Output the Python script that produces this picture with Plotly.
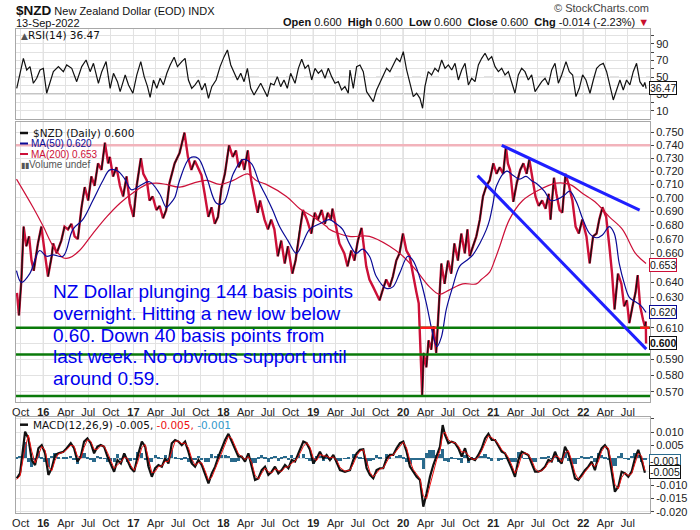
import math
from datetime import datetime
import plotly.graph_objects as go

# ---------------- DATA ----------------
price_dates = [
    "2015-09-16", "2015-09-24", "2015-10-04", "2015-10-13", "2015-10-24", "2015-11-04", "2015-11-14", "2015-11-23",
    "2015-12-10", "2015-12-24", "2016-01-07", "2016-01-20", "2016-02-04", "2016-02-10", "2016-02-24", "2016-03-14",
    "2016-03-27", "2016-04-10", "2016-04-24", "2016-05-07", "2016-05-20", "2016-06-04", "2016-06-17", "2016-07-01",
    "2016-07-14", "2016-07-27", "2016-08-10", "2016-08-24", "2016-09-07", "2016-09-20", "2016-09-27", "2016-10-10",
    "2016-10-24", "2016-11-07", "2016-11-20", "2016-12-04", "2016-12-17", "2017-01-01", "2017-01-14", "2017-01-31",
    "2017-02-10", "2017-02-24", "2017-03-07", "2017-03-20", "2017-04-04", "2017-04-17", "2017-05-01", "2017-05-14",
    "2017-05-27", "2017-06-17", "2017-07-07", "2017-07-27", "2017-08-10", "2017-08-24", "2017-09-07", "2017-09-20",
    "2017-10-04", "2017-10-17", "2017-11-01", "2017-11-14", "2017-11-27", "2017-12-10", "2017-12-24", "2018-01-07",
    "2018-01-24", "2018-02-08", "2018-02-21", "2018-03-04", "2018-03-18", "2018-03-27", "2018-04-10", "2018-04-24",
    "2018-05-07", "2018-05-20", "2018-05-30", "2018-06-17", "2018-07-01", "2018-07-14", "2018-07-27", "2018-08-10",
    "2018-08-24", "2018-09-07", "2018-09-20", "2018-10-08", "2018-10-21", "2018-11-07", "2018-11-20", "2018-12-06",
    "2018-12-24", "2019-01-07", "2019-01-20", "2019-02-04", "2019-02-17", "2019-03-01", "2019-03-14", "2019-03-20",
    "2019-04-04", "2019-04-17", "2019-05-07", "2019-05-20", "2019-06-04", "2019-06-17", "2019-07-01", "2019-07-16",
    "2019-08-04", "2019-08-17", "2019-09-01", "2019-09-14", "2019-09-27", "2019-10-10", "2019-10-24", "2019-11-07",
    "2019-11-20", "2019-12-04", "2019-12-17", "2019-12-31", "2020-01-14", "2020-01-27", "2020-02-10", "2020-02-24",
    "2020-03-04", "2020-03-10", "2020-03-18", "2020-03-24", "2020-04-04", "2020-04-13", "2020-04-24", "2020-05-03",
    "2020-05-14", "2020-05-23", "2020-06-04", "2020-06-17", "2020-07-01", "2020-07-14", "2020-07-27", "2020-08-10",
    "2020-08-24", "2020-09-07", "2020-09-18", "2020-09-27", "2020-10-10", "2020-10-24", "2020-11-07", "2020-11-20",
    "2020-12-04", "2020-12-17", "2021-01-01", "2021-01-14", "2021-01-27", "2021-02-10", "2021-02-21", "2021-03-01",
    "2021-03-10", "2021-03-23", "2021-04-06", "2021-04-20", "2021-05-03", "2021-05-16", "2021-05-27", "2021-06-08",
    "2021-06-21", "2021-07-04", "2021-07-18", "2021-08-01", "2021-08-14", "2021-08-21", "2021-09-04", "2021-09-14",
    "2021-09-27", "2021-10-08", "2021-10-21", "2021-11-04", "2021-11-18", "2021-12-01", "2021-12-14", "2021-12-28",
    "2022-01-14", "2022-01-27", "2022-02-10", "2022-02-24", "2022-03-07", "2022-03-20", "2022-04-04", "2022-04-17",
    "2022-04-28", "2022-05-08", "2022-05-22", "2022-06-05", "2022-06-16", "2022-06-27", "2022-07-07", "2022-07-20",
    "2022-08-01", "2022-08-10", "2022-08-20", "2022-09-01", "2022-09-08", "2022-09-12", "2022-09-13",
]
price_close = [
    0.633, 0.618, 0.642, 0.679, 0.665, 0.672, 0.655, 0.648,
    0.667, 0.679, 0.660, 0.644, 0.658, 0.667, 0.660, 0.669,
    0.679, 0.677, 0.681, 0.672, 0.670, 0.693, 0.708, 0.698,
    0.716, 0.709, 0.726, 0.721, 0.742, 0.726, 0.731, 0.716,
    0.723, 0.709, 0.701, 0.716, 0.696, 0.686, 0.709, 0.730,
    0.718, 0.713, 0.698, 0.701, 0.691, 0.694, 0.685, 0.691,
    0.711, 0.726, 0.734, 0.750, 0.731, 0.721, 0.728, 0.723,
    0.717, 0.703, 0.686, 0.693, 0.681, 0.686, 0.707, 0.718,
    0.740, 0.731, 0.736, 0.723, 0.729, 0.721, 0.736, 0.713,
    0.701, 0.689, 0.698, 0.684, 0.677, 0.684, 0.677, 0.658,
    0.669, 0.653, 0.665, 0.646, 0.655, 0.677, 0.691, 0.684,
    0.674, 0.689, 0.684, 0.691, 0.681, 0.689, 0.684, 0.692,
    0.677, 0.667, 0.660, 0.651, 0.662, 0.655, 0.669, 0.678,
    0.651, 0.642, 0.637, 0.633, 0.628, 0.635, 0.642, 0.637,
    0.644, 0.655, 0.660, 0.674, 0.662, 0.658, 0.644, 0.633,
    0.626, 0.604, 0.568, 0.594, 0.585, 0.602, 0.596, 0.611,
    0.594, 0.619, 0.653, 0.639, 0.655, 0.646, 0.667, 0.655,
    0.674, 0.660, 0.677, 0.658, 0.665, 0.672, 0.684, 0.701,
    0.709, 0.713, 0.726, 0.718, 0.723, 0.718, 0.739, 0.726,
    0.721, 0.697, 0.711, 0.721, 0.726, 0.718, 0.729, 0.716,
    0.701, 0.694, 0.698, 0.692, 0.703, 0.684, 0.715, 0.703,
    0.691, 0.689, 0.718, 0.709, 0.698, 0.679, 0.674, 0.684,
    0.672, 0.653, 0.672, 0.674, 0.684, 0.693, 0.686, 0.665,
    0.646, 0.622, 0.646, 0.639, 0.624, 0.628, 0.613, 0.624,
    0.633, 0.645, 0.624, 0.615, 0.611, 0.614, 0.600,
]

ma50_dates = [
    "2015-09-14", "2015-10-04", "2015-11-07", "2015-12-17", "2016-01-14", "2016-02-10", "2016-03-21", "2016-04-30",
    "2016-06-09", "2016-07-20", "2016-08-30", "2016-09-27", "2016-10-30", "2016-11-27", "2016-12-24", "2017-01-27",
    "2017-03-07", "2017-04-17", "2017-05-14", "2017-05-27", "2017-06-17", "2017-07-07", "2017-08-17", "2017-09-20",
    "2017-10-24", "2017-12-04", "2018-01-01", "2018-02-10", "2018-03-21", "2018-04-24", "2018-05-27", "2018-06-24",
    "2018-07-20", "2018-08-17", "2018-09-20", "2018-10-24", "2018-11-13", "2018-12-17", "2019-01-27", "2019-03-07",
    "2019-04-04", "2019-04-30", "2019-05-27", "2019-06-24", "2019-07-20", "2019-08-17", "2019-09-14", "2019-10-24",
    "2019-11-20", "2019-12-17", "2020-01-20", "2020-02-10", "2020-03-07", "2020-04-04", "2020-04-30", "2020-05-17",
    "2020-06-04", "2020-06-24", "2020-07-20", "2020-08-17", "2020-09-14", "2020-10-10", "2020-11-07", "2020-12-04",
    "2020-12-17", "2020-12-31", "2021-01-14", "2021-02-24", "2021-03-21", "2021-04-17", "2021-05-14", "2021-06-04",
    "2021-06-30", "2021-07-27", "2021-08-23", "2021-09-20", "2021-10-17", "2021-11-07", "2021-12-04", "2021-12-31",
    "2022-01-27", "2022-02-24", "2022-03-20", "2022-04-17", "2022-05-07", "2022-05-27", "2022-06-17", "2022-07-07",
    "2022-08-01", "2022-08-20", "2022-09-13",
]
ma50_vals = [
    0.648, 0.640, 0.646, 0.662, 0.658, 0.659, 0.658, 0.677,
    0.684, 0.698, 0.713, 0.721, 0.720, 0.714, 0.706, 0.709,
    0.712, 0.703, 0.693, 0.695, 0.700, 0.713, 0.730, 0.730,
    0.716, 0.696, 0.696, 0.718, 0.729, 0.726, 0.711, 0.701,
    0.691, 0.679, 0.669, 0.660, 0.665, 0.677, 0.681, 0.684,
    0.681, 0.677, 0.667, 0.660, 0.663, 0.658, 0.644, 0.636,
    0.637, 0.646, 0.658, 0.655, 0.644, 0.626, 0.606, 0.598,
    0.604, 0.622, 0.637, 0.651, 0.655, 0.659, 0.667, 0.677,
    0.684, 0.696, 0.709, 0.720, 0.717, 0.714, 0.716, 0.713,
    0.710, 0.705, 0.698, 0.699, 0.702, 0.705, 0.697, 0.684,
    0.674, 0.671, 0.673, 0.679, 0.674, 0.653, 0.639, 0.630,
    0.627, 0.625, 0.620,
]

ma200_dates = [
    "2015-09-14", "2015-11-20", "2016-01-01", "2016-02-10", "2016-03-21", "2016-04-17", "2016-05-27", "2016-07-20",
    "2016-09-14", "2016-11-07", "2017-01-01", "2017-02-24", "2017-04-04", "2017-05-14", "2017-07-07", "2017-09-01",
    "2017-10-24", "2017-12-17", "2018-02-10", "2018-04-10", "2018-05-14", "2018-06-24", "2018-09-14", "2018-11-07",
    "2019-01-01", "2019-02-24", "2019-03-07", "2019-05-27", "2019-08-17", "2019-11-07", "2019-12-31", "2020-02-24",
    "2020-04-17", "2020-05-27", "2020-07-07", "2020-08-30", "2020-10-24", "2020-11-13", "2020-12-17", "2021-01-06",
    "2021-01-27", "2021-03-07", "2021-04-30", "2021-07-07", "2021-09-14", "2021-11-07", "2021-12-31", "2022-02-24",
    "2022-04-17", "2022-06-09", "2022-08-01", "2022-09-13",
]
ma200_vals = [
    0.714, 0.693, 0.679, 0.665, 0.657, 0.657, 0.662, 0.674,
    0.686, 0.696, 0.704, 0.710, 0.711, 0.710, 0.708, 0.711,
    0.713, 0.710, 0.713, 0.718, 0.713, 0.710, 0.701, 0.692,
    0.686, 0.679, 0.677, 0.672, 0.672, 0.665, 0.658, 0.648,
    0.637, 0.632, 0.635, 0.639, 0.639, 0.642, 0.647, 0.655,
    0.665, 0.684, 0.698, 0.706, 0.711, 0.710, 0.703, 0.696,
    0.686, 0.677, 0.660, 0.653,
]

# RSI(14): observation times in decimal years, values
rsi_t = [
    2015.704, 2015.741, 2015.778, 2015.815, 2015.852, 2015.889, 2015.926, 2015.963, 2016.000, 2016.037,
    2016.074, 2016.111, 2016.167, 2016.222, 2016.259, 2016.315, 2016.370, 2016.426, 2016.474, 2016.519,
    2016.556, 2016.611, 2016.648, 2016.696, 2016.741, 2016.778, 2016.822, 2016.852, 2016.908, 2016.945,
    2016.993, 2017.037, 2017.081, 2017.119, 2017.156, 2017.185, 2017.222, 2017.259, 2017.296, 2017.333,
    2017.371, 2017.408, 2017.452, 2017.489, 2017.537, 2017.574, 2017.611, 2017.648, 2017.685, 2017.722,
    2017.760, 2017.797, 2017.834, 2017.871, 2017.919, 2017.963, 2018.008, 2018.045, 2018.082, 2018.119,
    2018.156, 2018.193, 2018.230, 2018.267, 2018.304, 2018.341, 2018.378, 2018.415, 2018.452, 2018.489,
    2018.526, 2018.563, 2018.600, 2018.637, 2018.674, 2018.711, 2018.748, 2018.797, 2018.834, 2018.871,
    2018.908, 2018.945, 2018.982, 2019.019, 2019.056, 2019.093, 2019.130, 2019.167, 2019.204, 2019.241,
    2019.278, 2019.315, 2019.352, 2019.389,
    2019.408, 2019.445, 2019.482, 2019.519, 2019.556, 2019.593, 2019.630, 2019.667, 2019.704, 2019.741,
    2019.778, 2019.815, 2019.852, 2019.889, 2019.926, 2019.964, 2020.001, 2020.038, 2020.075, 2020.112,
    2020.149, 2020.186, 2020.215, 2020.241, 2020.278, 2020.315, 2020.352, 2020.389, 2020.427, 2020.464,
    2020.501, 2020.538, 2020.575, 2020.612, 2020.649, 2020.686, 2020.723, 2020.760, 2020.797, 2020.834,
    2020.871, 2020.908, 2020.945, 2020.982, 2021.019, 2021.056, 2021.093, 2021.130, 2021.167, 2021.204,
    2021.241, 2021.278, 2021.315, 2021.352, 2021.389, 2021.426, 2021.464, 2021.501, 2021.538, 2021.575,
    2021.612, 2021.649, 2021.686, 2021.723, 2021.760, 2021.808, 2021.845, 2021.882, 2021.919, 2021.956,
    2021.993, 2022.030, 2022.075, 2022.112, 2022.149, 2022.186, 2022.223, 2022.260, 2022.297, 2022.334,
    2022.371, 2022.408, 2022.445, 2022.482, 2022.519, 2022.556, 2022.593, 2022.630, 2022.667, 2022.685,
    2022.700,
]
rsi_v = [
    36.9, 54.8, 72.6, 58.7, 62.7, 42.9, 48.8, 58.7, 60.7, 31.0,
    44.8, 56.7, 62.7, 56.7, 64.7, 60.7, 44.8, 62.7, 70.6, 56.7,
    66.7, 42.9, 56.7, 68.7, 36.9, 54.8, 44.8, 32.9, 52.8, 40.9,
    31.0, 52.8, 68.7, 50.8, 38.9, 26.2, 46.8, 36.9, 48.8, 40.9,
    54.8, 64.7, 73.8, 62.7, 68.7, 72.6, 46.8, 36.9, 40.9, 46.8,
    34.9, 42.9, 25.0, 38.9, 46.8, 62.7, 74.6, 82.5, 64.7, 56.7,
    46.8, 54.8, 44.8, 60.7, 36.9, 29.0, 36.9, 42.9, 34.9, 27.0,
    42.9, 40.9, 50.8, 38.9, 46.8, 36.9, 54.8, 42.9, 60.7, 71.4,
    60.7, 64.7, 46.8, 60.7, 54.8, 58.7, 48.8, 60.7, 50.8, 42.9,
    44.8, 34.9, 38.9, 31.0,
    58.7, 36.9, 62.7, 64.7, 56.7, 32.9, 27.0, 21.0, 34.9, 42.9,
    50.8, 60.7, 56.7, 64.7, 72.6, 68.7, 80.6, 58.7, 40.9, 27.0,
    31.0, 25.0, 13.1, 38.9, 56.7, 52.8, 60.7, 56.7, 70.6, 60.7,
    64.7, 58.7, 66.7, 46.8, 58.7, 66.7, 40.9, 48.8, 44.8, 64.7,
    72.6, 78.6, 70.6, 74.6, 62.7, 56.7, 60.7, 52.8, 56.7, 42.9,
    31.0, 52.8, 60.7, 56.7, 46.8, 52.8, 32.9, 38.9, 44.8, 48.8,
    40.9, 58.7, 66.7, 42.9, 52.8, 68.7, 56.7, 52.8, 27.0, 36.9,
    52.8, 46.8, 31.0, 46.8, 60.7, 64.7, 66.7, 56.7, 38.9, 23.0,
    34.9, 46.8, 34.9, 46.8, 40.9, 56.7, 66.7, 44.8, 38.9, 44.0,
    36.47,
]

# MACD(12,26,9): observation times in decimal years, MACD line and signal line
macd_t = [
    2015.704, 2015.741, 2015.797, 2015.834, 2015.871, 2015.908, 2015.945, 2015.982, 2016.019, 2016.056,
    2016.093, 2016.130, 2016.167, 2016.222, 2016.259, 2016.304, 2016.341, 2016.378, 2016.415, 2016.452,
    2016.489, 2016.526, 2016.563, 2016.600, 2016.637, 2016.674, 2016.711, 2016.748, 2016.785, 2016.822,
    2016.860, 2016.897, 2016.934, 2016.971, 2017.008, 2017.045, 2017.093, 2017.130, 2017.167, 2017.204,
    2017.241, 2017.278, 2017.315, 2017.352, 2017.389, 2017.426, 2017.463, 2017.500, 2017.537, 2017.574,
    2017.611, 2017.648, 2017.685, 2017.722, 2017.760, 2017.797, 2017.834, 2017.871, 2017.908, 2017.945,
    2017.982, 2018.019, 2018.056, 2018.093, 2018.130, 2018.167, 2018.204, 2018.241, 2018.278, 2018.315,
    2018.352, 2018.389, 2018.426, 2018.463, 2018.500, 2018.537, 2018.574, 2018.611, 2018.648, 2018.685,
    2018.723, 2018.760, 2018.797, 2018.834, 2018.889, 2018.926, 2018.963, 2019.000, 2019.037, 2019.074,
    2019.111, 2019.148, 2019.185, 2019.223, 2019.260, 2019.297, 2019.352, 2019.389,
    2019.408, 2019.445, 2019.482, 2019.519, 2019.556, 2019.593, 2019.630, 2019.667, 2019.704, 2019.741,
    2019.778, 2019.815, 2019.852, 2019.889, 2019.926, 2019.964, 2020.001, 2020.038, 2020.075, 2020.112,
    2020.149, 2020.186, 2020.223, 2020.260, 2020.297, 2020.334, 2020.371, 2020.408, 2020.438, 2020.464,
    2020.501, 2020.538, 2020.575, 2020.612, 2020.649, 2020.686, 2020.723, 2020.760, 2020.797, 2020.834,
    2020.871, 2020.908, 2020.945, 2020.982, 2021.019, 2021.056, 2021.093, 2021.130, 2021.167, 2021.204,
    2021.241, 2021.278, 2021.315, 2021.352, 2021.389, 2021.426, 2021.464, 2021.501, 2021.538, 2021.575,
    2021.612, 2021.649, 2021.686, 2021.723, 2021.760, 2021.797, 2021.834, 2021.871, 2021.908, 2021.945,
    2021.982, 2022.019, 2022.056, 2022.093, 2022.130, 2022.167, 2022.204, 2022.241, 2022.278, 2022.315,
    2022.352, 2022.390, 2022.427, 2022.464, 2022.501, 2022.538, 2022.575, 2022.612, 2022.649, 2022.686,
]
macd_v = [
    -0.0074, -0.0055, 0.0101, 0.0076, -0.0005, -0.0024, 0.0039, 0.0051, 0.0020, -0.0061,
    -0.0036, 0.0014, 0.0020, 0.0026, 0.0039, 0.0058, 0.0039, -0.0011, 0.0008, 0.0064,
    0.0076, 0.0058, 0.0020, 0.0045, 0.0051, 0.0045, 0.0008, -0.0018, -0.0049, -0.0005,
    -0.0018, 0.0020, -0.0011, -0.0036, -0.0049, 0.0008, 0.0064, 0.0045, -0.0030, -0.0068,
    -0.0036, -0.0024, -0.0030, 0.0001, -0.0018, 0.0058, 0.0070, 0.0064, 0.0051, 0.0064,
    0.0026, -0.0018, -0.0030, -0.0005, -0.0024, -0.0061, -0.0093, -0.0055, -0.0030, 0.0008,
    0.0039, 0.0070, 0.0093, 0.0064, 0.0033, 0.0008, 0.0008, -0.0011, 0.0020, -0.0036,
    -0.0080, -0.0074, -0.0043, -0.0030, -0.0061, -0.0049, -0.0030, -0.0055, -0.0043, -0.0024,
    -0.0036, -0.0005, -0.0011, 0.0020, 0.0064, 0.0058, 0.0033, -0.0018, 0.0001, 0.0026,
    0.0001, 0.0014, -0.0005, 0.0014, -0.0018, -0.0043, -0.0049, -0.0043,
    -0.0043, -0.0005, 0.0020, 0.0033, 0.0035, -0.0036, -0.0061, -0.0074, -0.0043, -0.0036,
    -0.0036, 0.0001, 0.0014, 0.0014, 0.0039, 0.0058, 0.0064, 0.0026, -0.0030, -0.0049,
    -0.0068, -0.0080, -0.0180, -0.0130, -0.0068, -0.0024, 0.0008, 0.0045, 0.0126, 0.0089,
    0.0058, 0.0064, 0.0058, 0.0039, 0.0008, 0.0039, -0.0005, 0.0001, -0.0005, 0.0014,
    0.0039, 0.0076, 0.0093, 0.0070, 0.0070, 0.0045, 0.0026, 0.0020, -0.0005, -0.0036,
    -0.0068, -0.0005, 0.0026, 0.0020, 0.0014, -0.0018, -0.0049, -0.0049, -0.0043, -0.0030,
    -0.0005, -0.0011, 0.0026, -0.0005, -0.0018, 0.0045, 0.0020, -0.0024, -0.0074, -0.0080,
    -0.0061, -0.0043, -0.0030, -0.0011, -0.0043, 0.0008, 0.0039, 0.0051, 0.0033, -0.0055,
    -0.0124, -0.0105, -0.0049, -0.0055, -0.0068, -0.0049, 0.0001, 0.0033, -0.0005, -0.0053,
]
signal_v = [
    -0.0078, -0.0065, 0.0040, 0.0088, 0.0028, -0.0016, 0.0013, 0.0046, 0.0032, -0.0029,
    -0.0046, -0.0006, 0.0018, 0.0024, 0.0034, 0.0050, 0.0047, 0.0009, 0.0000, 0.0042,
    0.0071, 0.0065, 0.0035, 0.0035, 0.0049, 0.0047, 0.0023, -0.0008, -0.0037, -0.0023,
    -0.0013, 0.0005, 0.0001, -0.0026, -0.0044, -0.0015, 0.0042, 0.0053, 0.0000, -0.0053,
    -0.0049, -0.0029, -0.0028, -0.0011, -0.0010, 0.0028, 0.0065, 0.0066, 0.0056, 0.0059,
    0.0041, 0.0000, -0.0025, -0.0015, -0.0016, -0.0046, -0.0080, -0.0070, -0.0040, -0.0007,
    0.0027, 0.0057, 0.0084, 0.0076, 0.0045, 0.0018, 0.0008, -0.0003, 0.0008, -0.0014,
    -0.0062, -0.0076, -0.0055, -0.0035, -0.0049, -0.0054, -0.0038, -0.0045, -0.0048, -0.0032,
    -0.0031, -0.0017, -0.0009, 0.0008, 0.0046, 0.0060, 0.0043, 0.0002, -0.0007, 0.0016,
    0.0011, 0.0009, 0.0003, 0.0006, -0.0005, -0.0033, -0.0047, -0.0045,
    -0.0043, -0.0020, 0.0010, 0.0028, 0.0034, -0.0008, -0.0051, -0.0069, -0.0055, -0.0039,
    -0.0036, -0.0014, 0.0009, 0.0014, 0.0029, 0.0046, 0.0062, 0.0040, -0.0008, -0.0041,
    -0.0060, -0.0075, -0.0140, -0.0150, -0.0100, -0.0054, -0.0005, 0.0030, 0.0090, 0.0100,
    0.0071, 0.0062, 0.0060, 0.0047, 0.0024, 0.0027, 0.0013, -0.0001, -0.0003, 0.0006,
    0.0029, 0.0061, 0.0086, 0.0079, 0.0070, 0.0055, 0.0034, 0.0022, 0.0005, -0.0024,
    -0.0055, -0.0030, 0.0014, 0.0022, 0.0016, -0.0005, -0.0037, -0.0049, -0.0045, -0.0035,
    -0.0015, -0.0009, 0.0011, 0.0007, -0.0013, 0.0020, 0.0030, -0.0006, -0.0054, -0.0078,
    -0.0069, -0.0050, -0.0035, -0.0019, -0.0030, -0.0012, 0.0027, 0.0046, 0.0040, -0.0020,
    -0.0096, -0.0113, -0.0071, -0.0053, -0.0063, -0.0057, -0.0019, 0.0020, 0.0010, -0.0045,
]

# drawn levels / trend lines (data coordinates)
green_levels = [0.610, 0.593, 0.5675]
pink_level = 0.740
upper_trend_dates = ["2021-02-04", "2022-08-18"]
upper_trend_vals = [0.740, 0.691]
lower_trend_dates = ["2020-10-29", "2022-09-14"]
lower_trend_vals = [0.7166, 0.5964]
red_mark_dates = [["2020-03-10", "2020-05-15"], ["2022-08-20", "2022-09-27"]]
red_mark_level = 0.610

tick_labels = ["Oct",
               "<b>16</b>", "Apr", "Jul", "Oct", "<b>17</b>", "Apr", "Jul", "Oct",
               "<b>18</b>", "Apr", "Jul", "Oct", "<b>19</b>", "Apr", "Jul", "Oct",
               "<b>20</b>", "Apr", "Jul", "Oct", "<b>21</b>", "Apr", "Jul", "Oct",
               "<b>22</b>", "Apr", "Jul"]
price_ticks = [0.75, 0.74, 0.73, 0.72, 0.71, 0.70, 0.69, 0.68, 0.67, 0.66,
               0.65, 0.64, 0.63, 0.62, 0.61, 0.60, 0.59, 0.58, 0.57]
price_ticktext = ["0.750", "0.740", "0.730", "0.720", "0.710", "0.700", "0.690", "0.680", "0.670", "0.660",
                  "", "0.640", "0.630", "", "0.610", "", "0.590", "0.580", "0.570"]
rsi_ticks = [10, 20, 30, 40, 50, 60, 70, 80, 90, 100]
rsi_ticktext = ["10", "", "30", "", "50", "", "70", "", "90", ""]
macd_ticks = [-0.020, -0.015, -0.010, -0.005, 0.0, 0.005, 0.010, 0.015]
macd_ticktext = ["-0.020", "-0.015", "-0.010", "", "", "0.005", "0.010", ""]

# ---------------- helpers ----------------
def dec_year(t):
    y = int(t)
    a, b = datetime(y, 1, 1), datetime(y + 1, 1, 1)
    return a + (b - a) * (t - y)

rsi_x = [dec_year(t) for t in rsi_t]
macd_x = [dec_year(t) for t in macd_t]
hist_v = [m - s for m, s in zip(macd_v, signal_v)]

tick_dates = []
for yr in range(2015, 2023):
    for mo in (1, 4, 7, 10):
        d = datetime(yr, mo, 1)
        if datetime(2015, 10, 1) <= d <= datetime(2022, 7, 1):
            tick_dates.append(d)
year_lines = [datetime(y, 1, 1) for y in range(2016, 2023)]

W, H = 700, 530
ML, MR, MT, MB = 16, 50, 29, 17
PW, PH = W - ML - MR, H - MT - MB
def fx(px):
    return (px - ML) / PW
def fy(py):
    return (H - MB - py) / PH

X_RANGE = ["2015-09-12", "2022-09-29"]
FONT = "Liberation Sans, Arial, sans-serif"
VFONT = "DejaVu Sans, Verdana, sans-serif"

fig = go.Figure()

# ---------------- RSI panel ----------------
fig.add_trace(go.Scatter(x=rsi_x, y=rsi_v, mode="lines", line=dict(color="#111", width=1.2),
                         xaxis="x", yaxis="y", hoverinfo="skip"))

# ---------------- Price panel ----------------
fig.add_trace(go.Scatter(x=X_RANGE, y=[pink_level, pink_level], mode="lines",
                         line=dict(color="#f2b3bb", width=2.5), xaxis="x2", yaxis="y2"))
fig.add_trace(go.Scatter(x=price_dates, y=price_close, mode="lines",
                         line=dict(color="#cc1038", width=2.4), xaxis="x2", yaxis="y2"))
bx, by = [], []
for i in range(1, len(price_close)):
    if price_close[i] > price_close[i - 1]:
        bx += [price_dates[i - 1], price_dates[i], None]
        by += [price_close[i - 1], price_close[i], None]
fig.add_trace(go.Scatter(x=bx, y=by, mode="lines", line=dict(color="#111", width=1.3),
                         connectgaps=False, xaxis="x2", yaxis="y2"))
fig.add_trace(go.Scatter(x=ma200_dates, y=ma200_vals, mode="lines", line=dict(color="#cc1038", width=1.2),
                         line_shape="spline", xaxis="x2", yaxis="y2"))
fig.add_trace(go.Scatter(x=ma50_dates, y=ma50_vals, mode="lines", line=dict(color="#0a0a96", width=1.2),
                         line_shape="spline", xaxis="x2", yaxis="y2"))
for lv in green_levels:
    fig.add_trace(go.Scatter(x=X_RANGE, y=[lv, lv], mode="lines", line=dict(color="#0a7a0a", width=2.5),
                             xaxis="x2", yaxis="y2"))
for seg in red_mark_dates:
    fig.add_trace(go.Scatter(x=seg, y=[red_mark_level, red_mark_level], mode="lines",
                             line=dict(color="#ff1a1a", width=2.5), xaxis="x2", yaxis="y2"))
fig.add_trace(go.Scatter(x=upper_trend_dates, y=upper_trend_vals, mode="lines",
                         line=dict(color="#1f1fff", width=3), xaxis="x2", yaxis="y2"))
fig.add_trace(go.Scatter(x=lower_trend_dates, y=lower_trend_vals, mode="lines",
                         line=dict(color="#1f1fff", width=3), xaxis="x2", yaxis="y2"))

# ---------------- MACD panel ----------------
fig.add_trace(go.Bar(x=macd_x, y=hist_v, marker=dict(color="#2a6a8c", line=dict(width=0)),
                     width=13 * 86400000, xaxis="x3", yaxis="y3"))
fig.add_trace(go.Scatter(x=macd_x, y=macd_v, mode="lines", line=dict(color="#111", width=2.2),
                         xaxis="x3", yaxis="y3"))
fig.add_trace(go.Scatter(x=macd_x, y=signal_v, mode="lines", line=dict(color="#ee1111", width=1),
                         xaxis="x3", yaxis="y3"))

# ---------------- axes ----------------
grid = "#e2e2e2"
frame = "#a8a8a8"
xcommon = dict(type="date", range=X_RANGE, tickvals=tick_dates, ticktext=tick_labels, automargin=False,
               gridcolor=grid, gridwidth=1, showline=True, mirror=True, linecolor=frame,
               zeroline=False, ticks="", tickfont=dict(family=FONT, size=11, color="#222"))
ycommon = dict(side="right", ticks="outside", ticklen=3, tickcolor="#444", gridcolor=grid, automargin=False,
               showline=True, mirror=True, linecolor=frame, zeroline=False,
               tickfont=dict(family=FONT, size=11, color="#222"))

fig.update_layout(
    width=W, height=H, margin=dict(l=ML, r=MR, t=MT, b=MB, autoexpand=False),
    paper_bgcolor="white", plot_bgcolor="white", showlegend=False, bargap=0,
    xaxis=dict(xcommon, domain=[0, 1], anchor="y", showticklabels=False),
    xaxis2=dict(xcommon, domain=[0, 1], anchor="y2", showticklabels=True),
    xaxis3=dict(xcommon, domain=[0, 1], anchor="y3", showticklabels=True),
    yaxis=dict(ycommon, domain=[fy(119), fy(29)], anchor="x", range=[0.36, 107.5],
               tickvals=rsi_ticks, ticktext=rsi_ticktext),
    yaxis2=dict(ycommon, domain=[fy(401.5), fy(122)], anchor="x2", type="log",
                range=[math.log10(0.5642), math.log10(0.7585)],
                tickvals=price_ticks, ticktext=price_ticktext),
    yaxis3=dict(ycommon, domain=[fy(513), fy(417.3)], anchor="x3", range=[-0.02039, 0.01552],
                tickvals=macd_ticks, ticktext=macd_ticktext),
)

shapes = []
for xr, yr in (("x", "y domain"), ("x2", "y2 domain"), ("x3", "y3 domain")):
    for d in year_lines:
        shapes.append(dict(type="line", xref=xr, yref=yr, x0=d, x1=d, y0=0, y1=1,
                           line=dict(color="#b4b4b4", width=1), layer="below"))
for lv, dash in ((70, "solid"), (30, "solid"), (50, "dash")):
    shapes.append(dict(type="line", xref="x domain", yref="y", x0=0, x1=1, y0=lv, y1=lv,
                       line=dict(color="#707070", width=1, dash=dash), layer="below"))
# legend swatches
def swatch(px0, px1, py, color, w):
    return dict(type="line", xref="paper", yref="paper", x0=fx(px0), x1=fx(px1), y0=fy(py), y1=fy(py),
                line=dict(color=color, width=w))
shapes += [swatch(20, 28, 133, "#111", 2.5), swatch(20, 28, 143.5, "#0a0a96", 2),
           swatch(20, 28, 154, "#cc1038", 2), swatch(20, 28, 424.7, "#111", 2.5)]
fig.update_layout(shapes=shapes)

ann = []
def text(px, py, s, size=11, color="#111", family=FONT, xanchor="left"):
    ann.append(dict(xref="paper", yref="paper", x=fx(px), y=fy(py), xanchor=xanchor, yanchor="middle",
                    text=s, showarrow=False, font=dict(family=family, size=size, color=color)))

# header
text(14, 10.5, "<span style='font-size:13.5px'><b>$NZD</b></span> New Zealand Dollar (EOD) INDX", 11)
text(14, 23, "13-Sep-2022", 11)
text(651, 8, "© StockCharts.com", 11, "#444", xanchor="right")
text(651, 22.5, "<b>Open</b> 0.600  <b>High</b> 0.600  <b>Low</b> 0.600  <b>Close</b> 0.600  "
                "<b>Chg</b> -0.014 (-2.23%) <span style='color:#c8102e'>▼</span>", 11, xanchor="right")

# panel legends
text(19, 35, "<span style='color:#555;font-size:9px'>▲</span>RSI(14) 36.47", 10.5, family=VFONT)
text(30.5, 133, "$NZD (Daily) 0.600", 10.5, family=VFONT)
text(28.5, 143.8, "MA(50) 0.620", 10, "#0a0a96")
text(28.5, 154.3, "MA(200) 0.653", 10, "#cc1038")
text(19, 164.5, "<span style='font-size:8px'>▮▮</span>Volume undef", 10, "#555")
text(30.5, 425, "MACD(12,26,9) -0.005, <span style='color:#ee1111'>-0.005,</span> "
                "<span style='color:#3399cc'>-0.001</span>", 10.5, family=VFONT)

# commentary
comment_lines = ["NZ Dollar plunging 144 basis points",
                 "overnight. Hitting a new low below",
                 "0.60. Down 40 basis points from",
                 "last week. No obvious support until",
                 "around 0.59."]
for i, s in enumerate(comment_lines):
    text(51, 291.8 + i * 21.6, s, 19, "#0000ee")

# last-value boxes
def box(s, yref, yval, border, shift=0):
    ann.append(dict(xref="paper", x=fx(649), xanchor="left", yref=yref, y=yval, yanchor="middle",
                    yshift=shift, text=s, showarrow=False, bordercolor=border, borderwidth=1, borderpad=0,
                    bgcolor="white", font=dict(family=FONT, size=10.5, color="#111")))
box("36.47", "y", 36.47, "#111", 1)
box("0.653", "y2", math.log10(0.653), "#cc1038", -2)
box("0.620", "y2", math.log10(0.620), "#0a0a96")
box("<b>0.600</b>", "y2", math.log10(0.600), "#111")
box("-0.001", "y3", -0.001, "#2a6a8c")
box("-0.005", "y3", -0.005, "#111")

fig.update_layout(annotations=ann)
fig.write_html("out.html")
